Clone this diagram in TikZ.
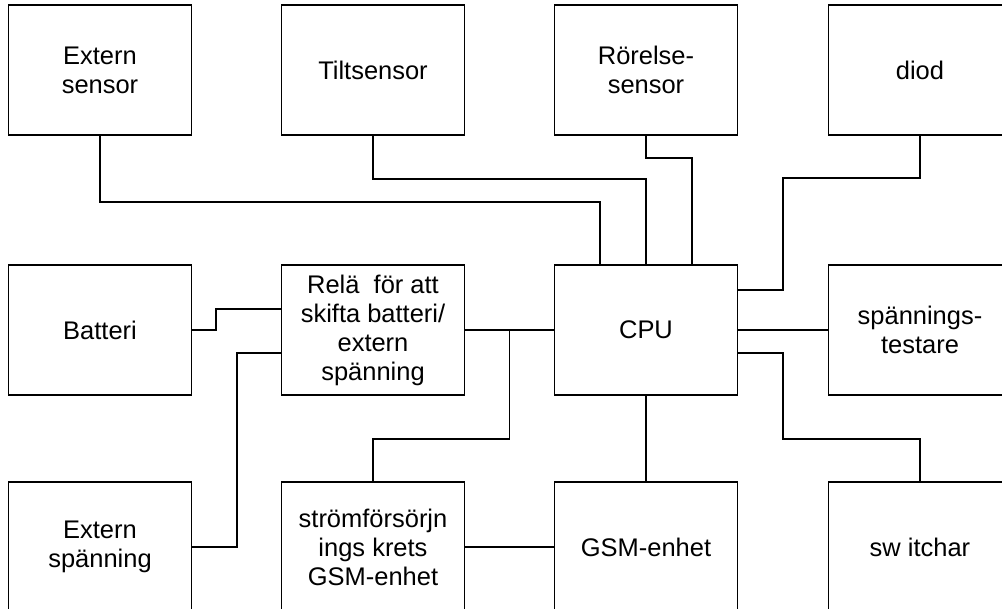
\documentclass[tikz,border=0pt]{standalone}
\usepackage{fontspec}
\setmainfont{Liberation Sans}
\usetikzlibrary{calc}

\begin{document}
\begin{tikzpicture}[x=0.02cm, y=-0.02cm,
    box/.style={draw, line width=1pt, minimum width=3.66cm, minimum height=2.6cm, inner sep=0pt, align=center,
        font=\fontsize{14.5pt}{16.5pt}\selectfont},
    wire/.style={line width=1pt}]

    \useasboundingbox (0,0) rectangle (1002,609);

    % Top row
    \node[box] (extsensor) at (100,70) {Extern\\sensor};
    \node[box] (tilt) at (373,70) {Tiltsensor};
    \node[box] (rorelse) at (646,70) {Rörelse-\\sensor};
    \node[box] (diod) at (920,70) {diod};

    % Middle row
    \node[box] (batteri) at (100,330) {Batteri};
    \node[box] (rela) at (373,330) {Relä~ för att\\skifta batteri/\\extern\\spänning};
    \node[box] (cpu) at (646,330) {CPU};
    \node[box] (testare) at (920,330) {spännings-\\testare};

    % Bottom row
    \node[box] (extspanning) at (100,547) {Extern\\spänning};
    \node[box] (stromgsm) at (373,547) {strömförsörjn\\ings krets\\GSM-enhet};
    \node[box] (gsm) at (646,547) {GSM-enhet};
    \node[box] (switchar) at (920,547) {sw itchar};

    \coordinate (tap) at ($(rela.east)!0.5!(cpu.west)$);

    % Sensors to CPU
    \draw[wire] (extsensor.south) -- ++(0,66) -| ([xshift=-0.92cm]cpu.north);
    \draw[wire] (tilt.south) -- ++(0,43) -| (cpu.north);
    \draw[wire] (rorelse.south) -- ++(0,22) -| ([xshift=0.92cm]cpu.north);
    \draw[wire] ([yshift=0.8cm]cpu.east) -| (783,178) -| (diod.south);

    % CPU right side and below
    \draw[wire] (cpu.east) -- (testare.west);
    \draw[wire] ([yshift=-0.46cm]cpu.east) -| (783,439) -| (switchar.north);
    \draw[wire] (cpu.south) -- (gsm.north);

    % Power
    \draw[wire] (rela.east) -- (cpu.west);
    \draw[wire] (stromgsm.north) -- ++(0,-42) -| (tap);
    \draw[wire] (stromgsm.east) -- (gsm.west);
    \draw[wire] (batteri.east) -- ++(24,0) |- ([yshift=0.42cm]rela.west);
    \draw[wire] (extspanning.east) -- ++(45,0) |- ([yshift=-0.46cm]rela.west);

\end{tikzpicture}
\end{document}
